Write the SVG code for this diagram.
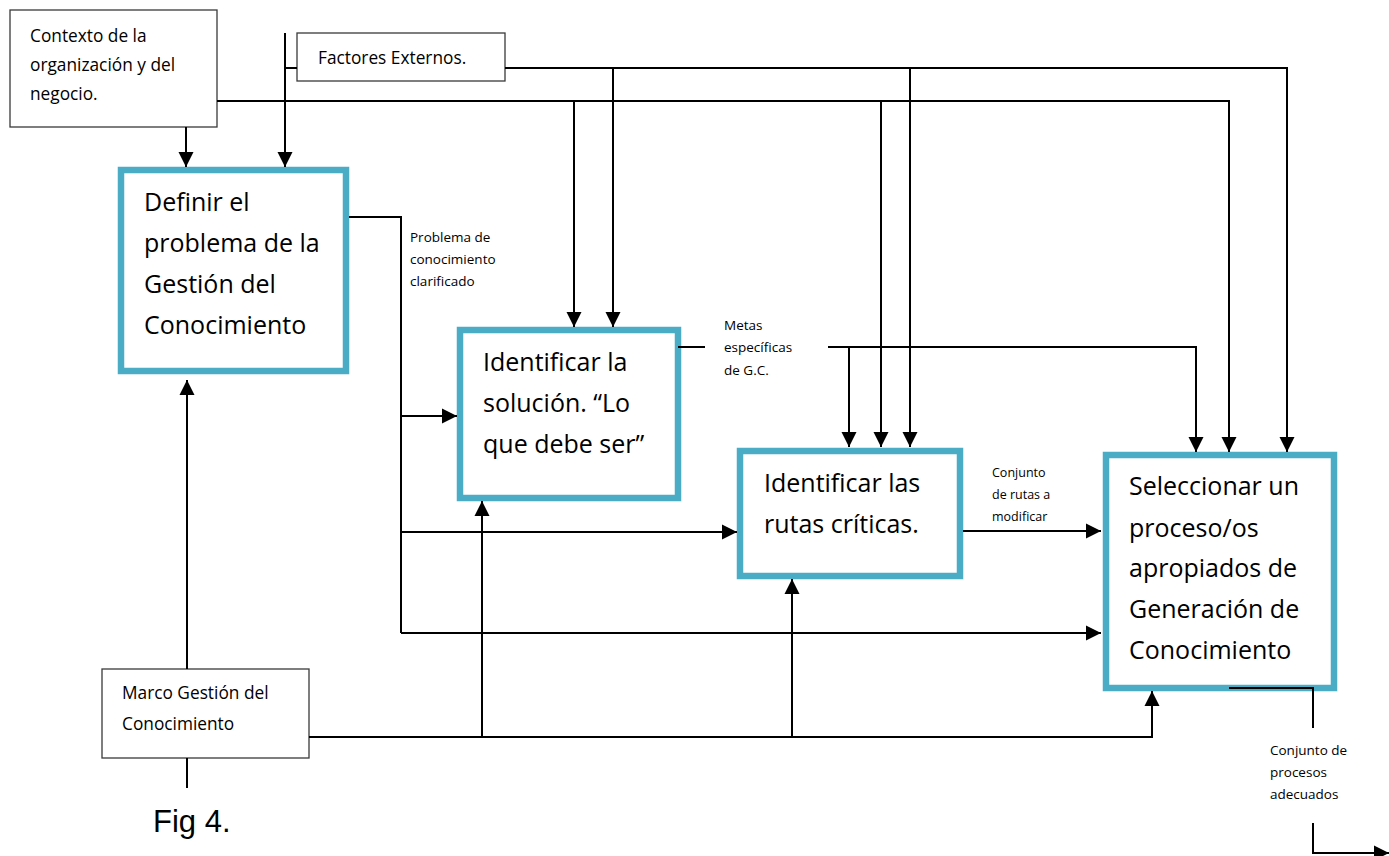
<svg xmlns="http://www.w3.org/2000/svg" width="1389" height="856" viewBox="0 0 1389 856">
  <style>
    .bg { fill: #ffffff; }
    .frame { fill: #ffffff; stroke: #3a3a3a; stroke-width: 1.3; }
    .proc { fill: #ffffff; stroke: #4bacc6; stroke-width: 6.5; }
    .big { font-family: "Open Sans", "Liberation Sans", sans-serif; font-size: 25px; fill: #000; }
    .mid { font-family: "Open Sans", "Liberation Sans", sans-serif; font-size: 17.3px; fill: #000; }
    .small { font-family: "Open Sans", "Liberation Sans", sans-serif; font-size: 13.5px; fill: #000; }
    .tiny { font-family: "Open Sans", "Liberation Sans", sans-serif; font-size: 12.5px; fill: #000; }
    .cap { font-family: "Liberation Sans", Arial, sans-serif; font-size: 31px; fill: #000; }
    .wire { fill: none; stroke: #000; stroke-width: 2; }
    .arrow { fill: none; stroke: #000; stroke-width: 2; marker-end: url(#head); }
  </style>
  <defs>
    <marker id="head" markerUnits="userSpaceOnUse" markerWidth="15" markerHeight="16" viewBox="0 0 15 16" refX="15" refY="8" orient="auto">
      <path d="M0,0.5 L15,8 L0,15.5 Z" fill="#000"/>
    </marker>
  </defs>

  <rect class="bg" x="0" y="0" width="1389" height="856"/>

  <!-- input: organisation context -->
  <g id="contexto">
    <rect class="frame" x="10" y="10" width="207" height="117"/>
    <text class="mid" x="30" y="42">Contexto de la</text>
    <text class="mid" x="30" y="71">organización y del</text>
    <text class="mid" x="30" y="100">negocio.</text>
  </g>

  <!-- input: external factors -->
  <g id="factores">
    <rect class="frame" x="297" y="33" width="208" height="48"/>
    <text class="mid" x="318" y="64">Factores Externos.</text>
  </g>

  <!-- process 1 -->
  <g id="definir">
    <rect class="proc" x="121" y="170" width="225" height="201"/>
    <text class="big" x="144" y="211">Definir el</text>
    <text class="big" x="144" y="252">problema de la</text>
    <text class="big" x="144" y="293">Gestión del</text>
    <text class="big" x="144" y="334">Conocimiento</text>
  </g>

  <g id="label-problema">
    <text class="small" x="410" y="242">Problema de</text>
    <text class="small" x="410" y="264">conocimiento</text>
    <text class="small" x="410" y="286">clarificado</text>
  </g>

  <!-- process 2 -->
  <g id="solucion">
    <rect class="proc" x="460" y="330" width="218" height="168"/>
    <text class="big" x="483" y="371">Identificar la</text>
    <text class="big" x="483" y="412">solución. “Lo</text>
    <text class="big" x="483" y="453">que debe ser”</text>
  </g>

  <g id="label-metas">
    <text class="small" x="724" y="330">Metas</text>
    <text class="small" x="724" y="352">específicas</text>
    <text class="small" x="724" y="375">de G.C.</text>
  </g>

  <!-- process 3 -->
  <g id="rutas">
    <rect class="proc" x="740" y="451" width="220" height="125"/>
    <text class="big" x="764" y="492">Identificar las</text>
    <text class="big" x="764" y="533">rutas críticas.</text>
  </g>

  <g id="label-rutas">
    <text class="tiny" x="992" y="477">Conjunto</text>
    <text class="tiny" x="992" y="499">de rutas a</text>
    <text class="tiny" x="992" y="521">modificar</text>
  </g>

  <!-- process 4 -->
  <g id="seleccionar">
    <rect class="proc" x="1106" y="455" width="228" height="233"/>
    <text class="big" x="1129" y="495">Seleccionar un</text>
    <text class="big" x="1129" y="537">proceso/os</text>
    <text class="big" x="1129" y="577">apropiados de</text>
    <text class="big" x="1129" y="618">Generación de</text>
    <text class="big" x="1129" y="659">Conocimiento</text>
  </g>

  <g id="label-procesos">
    <text class="small" x="1270" y="755">Conjunto de</text>
    <text class="small" x="1270" y="777">procesos</text>
    <text class="small" x="1270" y="799">adecuados</text>
  </g>

  <!-- mechanism: framework -->
  <g id="marco">
    <rect class="frame" x="102" y="669" width="207" height="89"/>
    <text class="mid" x="122" y="699">Marco Gestión del</text>
    <text class="mid" x="122" y="730">Conocimiento</text>
  </g>

  <g id="caption">
    <text class="cap" x="153" y="832">Fig 4.</text>
  </g>

  <!-- connectors (drawn last so they sit on top of the box borders) -->
  <g id="connectors">
    <!-- context into "Definir" -->
    <path class="arrow" d="M186,127 V167"/>
    <!-- external factors: vertical feed into "Definir" and tick to the box -->
    <path class="arrow" d="M285,33 V167"/>
    <path class="wire" d="M285,68 H297"/>
    <!-- external factors bus -->
    <path class="arrow" d="M505,68 H1287 V452"/>
    <path class="arrow" d="M613,68 V327"/>
    <path class="arrow" d="M910,68 V447"/>
    <!-- context bus -->
    <path class="arrow" d="M217,101 H1229 V452"/>
    <path class="arrow" d="M574,101 V327"/>
    <path class="arrow" d="M881,101 V447"/>
    <!-- clarified problem distribution -->
    <path class="wire" d="M349,217 H401 V633"/>
    <path class="arrow" d="M401,416 H457"/>
    <path class="arrow" d="M401,532 H737"/>
    <path class="arrow" d="M401,633 H1101"/>
    <!-- specific goals -->
    <path class="wire" d="M678,347 H705"/>
    <path class="arrow" d="M828,347 H1196 V452"/>
    <path class="arrow" d="M849,347 V447"/>
    <!-- critical routes output -->
    <path class="arrow" d="M963,531 H1101"/>
    <!-- framework bus -->
    <path class="arrow" d="M187,669 V380"/>
    <path class="wire" d="M187,758 V788"/>
    <path class="arrow" d="M309,737 H1152 V691"/>
    <path class="arrow" d="M482,737 V501"/>
    <path class="arrow" d="M792,737 V579"/>
    <!-- final output -->
    <path class="wire" d="M1229,688 H1313 V728"/>
    <path class="arrow" d="M1313,823 V853 H1389"/>
  </g>
</svg>
